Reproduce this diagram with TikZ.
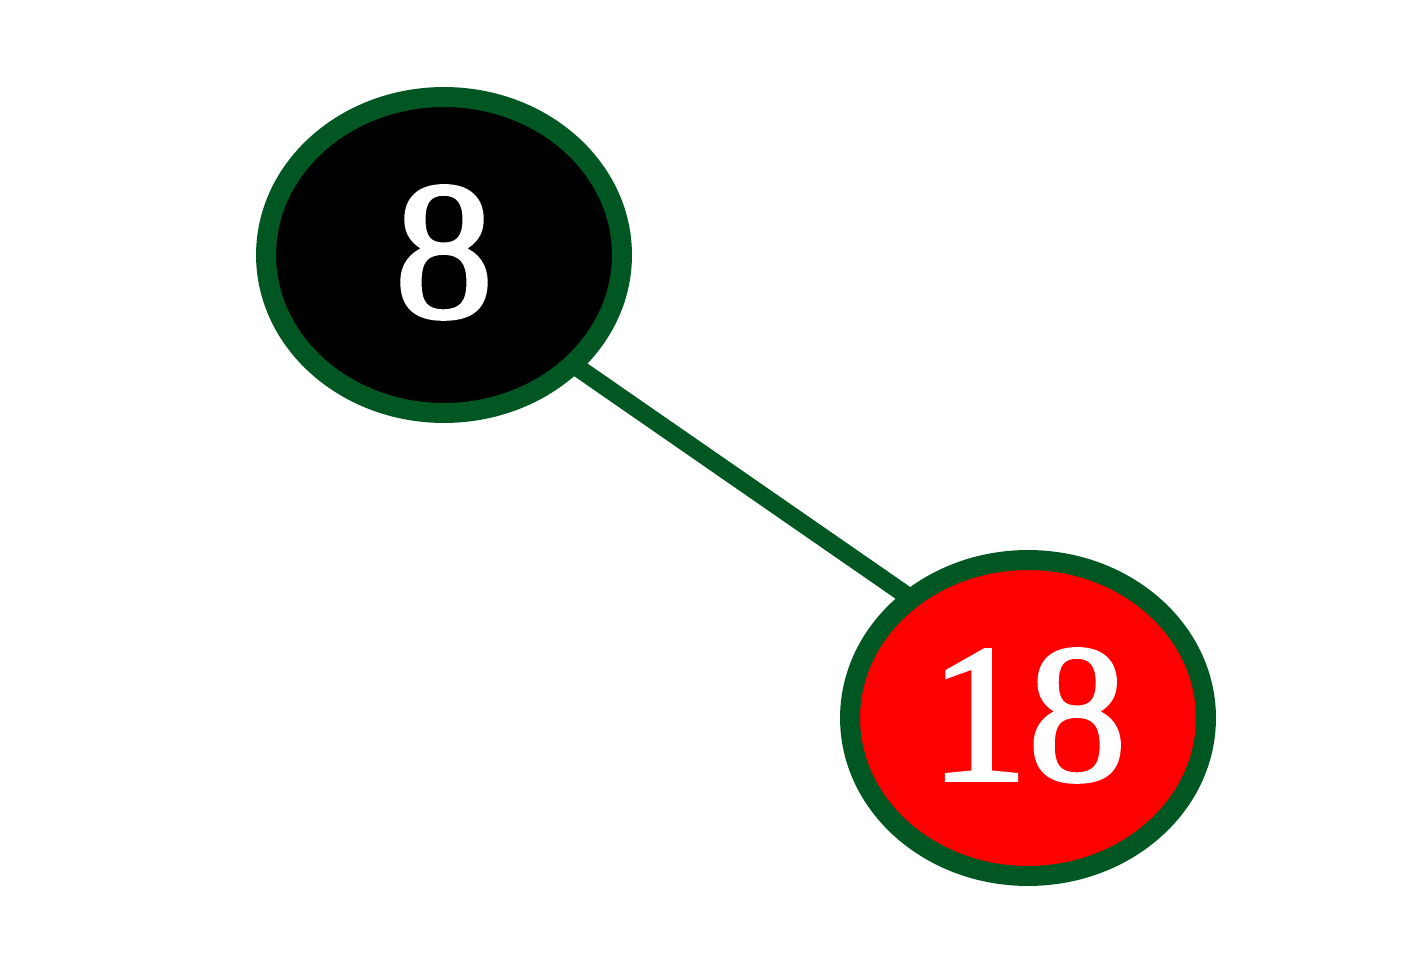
\documentclass[tikz,border=0pt]{standalone}
\usepackage{fontspec}
\setmainfont{Liberation Serif}
\newfontfamily\nodefont[FakeBold=2]{Liberation Serif}
\usetikzlibrary{shapes.geometric,backgrounds}
\definecolor{edgegreen}{RGB}{0,87,34}
\definecolor{nodered}{RGB}{255,0,0}
\tikzset{
  rbnode/.style={ellipse, draw=edgegreen, line width=0.4cm, inner sep=0pt,
    minimum width=7.12cm, minimum height=6.32cm, text=white,
    font=\nodefont\fontsize{112}{112}\selectfont},
  blacknode/.style={rbnode, fill=black},
  rednode/.style={rbnode, fill=nodered},
  treeedge/.style={draw=edgegreen, line width=0.36cm, shorten <=-0.3cm, shorten >=-0.3cm}
}
\begin{document}
\begin{tikzpicture}[x=0.02cm, y=-0.02cm]
  \useasboundingbox (0,0) rectangle (1416,976);
  \node[blacknode] (n8) at (444,255) {\raisebox{0.14cm}{8}};
  \node[rednode] (n18) at (1028,718) {\raisebox{0.14cm}{18}};
  \begin{scope}[on background layer]
    \draw[treeedge] (n8.-40) -- (n18.135);
  \end{scope}
\end{tikzpicture}
\end{document}
